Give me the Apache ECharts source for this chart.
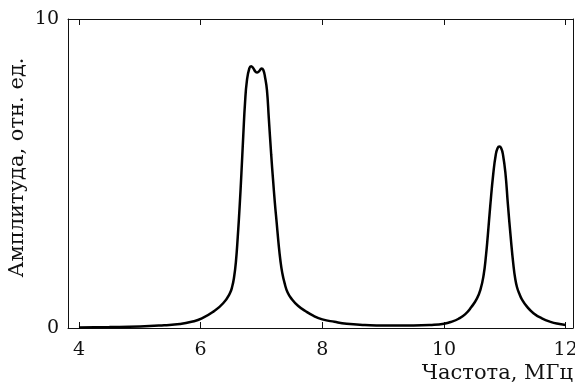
<!DOCTYPE html>
<html>
<head>
<meta charset="utf-8">
<script src="https://cdn.jsdelivr.net/npm/echarts@6/dist/echarts.min.js"></script>
<style>
  html, body { margin: 0; padding: 0; background: #fff; }
  #chart { width: 575px; height: 388px; }
</style>
</head>
<body>
<div id="chart"></div>
<script>
// frequency, MHz
var freq = [4.0, 4.5, 5.0, 5.4, 5.66, 5.85, 6.02, 6.21, 6.37, 6.48, 6.52, 6.55, 6.58, 6.61, 6.64, 6.67, 6.7, 6.73, 6.76, 6.8, 6.83, 6.86, 6.9, 6.93, 6.97, 7.0, 7.03, 7.06, 7.09, 7.12, 7.16, 7.19, 7.22, 7.25, 7.28, 7.31, 7.34, 7.38, 7.43, 7.5, 7.6, 7.72, 7.85, 8.0, 8.2, 8.4, 8.7, 9.0, 9.5, 9.8, 10.0, 10.12, 10.24, 10.35, 10.45, 10.54, 10.6, 10.65, 10.69, 10.72, 10.76, 10.81, 10.85, 10.88, 10.91, 10.94, 10.97, 11.01, 11.05, 11.1, 11.14, 11.17, 11.2, 11.24, 11.28, 11.36, 11.47, 11.6, 11.75, 11.9, 12.0];
// amplitude, rel. units
var ampl = [0.02, 0.03, 0.05, 0.09, 0.13, 0.2, 0.31, 0.53, 0.8, 1.12, 1.35, 1.65, 2.15, 2.95, 3.9, 5.0, 6.2, 7.3, 8.0, 8.4, 8.47, 8.42, 8.3, 8.27, 8.33, 8.4, 8.35, 8.1, 7.7, 6.8, 5.6, 4.8, 4.05, 3.4, 2.75, 2.2, 1.8, 1.45, 1.15, 0.93, 0.72, 0.55, 0.4, 0.28, 0.2, 0.14, 0.1, 0.08, 0.08, 0.1, 0.14, 0.2, 0.3, 0.45, 0.68, 0.95, 1.25, 1.7, 2.35, 3.0, 3.95, 5.0, 5.6, 5.82, 5.87, 5.82, 5.6, 5.0, 4.0, 2.85, 2.05, 1.6, 1.32, 1.1, 0.93, 0.7, 0.48, 0.32, 0.2, 0.13, 0.1];

var xTicks = [4, 6, 8, 10, 12];
var yTicks = [0, 10];

var points = freq.map(function (f, i) { return [f, ampl[i]]; });

var myChart = echarts.init(document.getElementById('chart'), null, { renderer: 'canvas' });

var font = 'DejaVu Serif';
var ink = '#111';

var option = {
    animation: false,
    backgroundColor: '#fff',
    grid: { left: 68, right: 2, top: 19, bottom: 60, containLabel: false, outerBoundsMode: 'none' },
    xAxis: [
        {
            type: 'value',
            position: 'bottom',
            min: 3.82,
            max: 12.12,
            name: 'Частота, МГц',
            nameLocation: 'end',
            nameGap: 0,
            nameMoveOverlap: false,
            nameTextStyle: {
                fontFamily: font, fontSize: 21, color: ink,
                align: 'right', verticalAlign: 'top', padding: [35, 0, 0, 0]
            },
            axisLine: { show: true, onZero: false, lineStyle: { color: ink, width: 1 } },
            axisTick: { show: true, inside: true, length: 6, customValues: xTicks, lineStyle: { color: ink } },
            axisLabel: { show: true, customValues: xTicks, margin: 13, fontFamily: font, fontSize: 19, color: ink },
            splitLine: { show: false }
        },
        {
            type: 'value',
            position: 'top',
            min: 3.82,
            max: 12.12,
            axisLine: { show: true, onZero: false, lineStyle: { color: ink, width: 1 } },
            axisTick: { show: true, inside: true, length: 6, customValues: xTicks, lineStyle: { color: ink } },
            axisLabel: { show: false },
            splitLine: { show: false }
        }
    ],
    yAxis: [
        {
            type: 'value',
            position: 'left',
            min: 0,
            max: 10,
            name: 'Амплитуда, отн. ед.',
            nameLocation: 'middle',
            nameGap: 40,
            nameRotate: 90,
            nameMoveOverlap: false,
            nameTextStyle: { fontFamily: font, fontSize: 21, color: ink, padding: [0, 0, 0, 12] },
            axisLine: { show: true, onZero: false, lineStyle: { color: ink, width: 1 } },
            axisTick: { show: false },
            axisLabel: { show: true, customValues: yTicks, margin: 9, fontFamily: font, fontSize: 19, color: ink },
            splitLine: { show: false }
        },
        {
            type: 'value',
            position: 'right',
            min: 0,
            max: 10,
            axisLine: { show: true, onZero: false, lineStyle: { color: ink, width: 1 } },
            axisTick: { show: false },
            axisLabel: { show: false },
            splitLine: { show: false }
        }
    ],
    series: [
        {
            type: 'line',
            xAxisIndex: 0,
            yAxisIndex: 0,
            data: points,
            showSymbol: false,
            smooth: 0.5,
            lineStyle: { color: '#000', width: 2.5 }
        }
    ]
};

myChart.setOption(option);
</script>
</body>
</html>
